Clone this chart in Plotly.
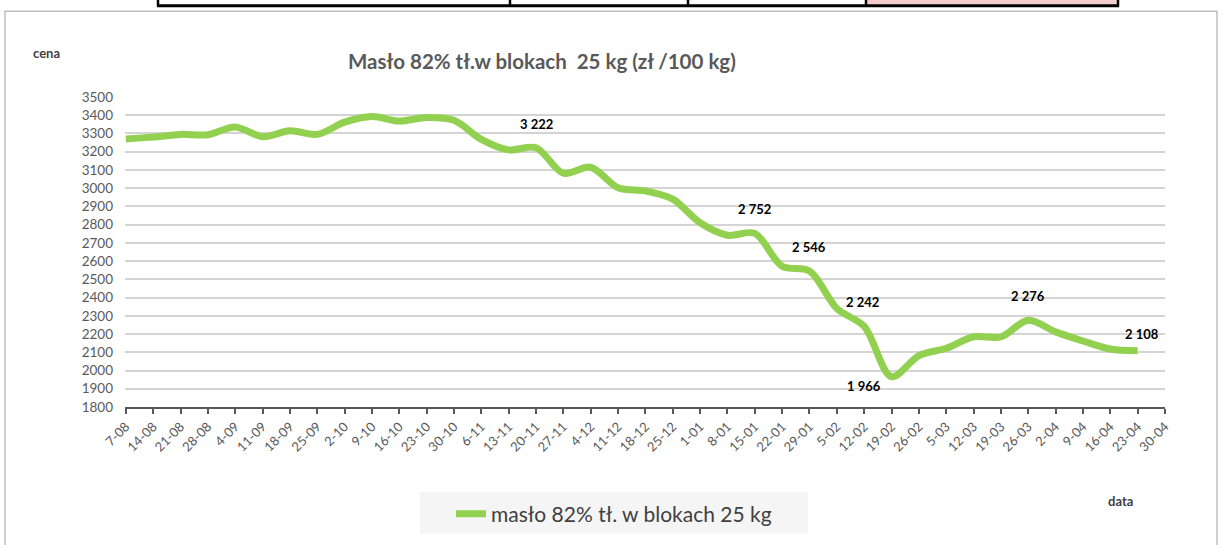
import plotly.graph_objects as go

# ---------------- data ----------------
dates = ["7-08", "14-08", "21-08", "28-08", "4-09", "11-09", "18-09", "25-09",
         "2-10", "9-10", "16-10", "23-10", "30-10", "6-11", "13-11", "20-11",
         "27-11", "4-12", "11-12", "18-12", "25-12", "1-01", "8-01", "15-01",
         "22-01", "29-01", "5-02", "12-02", "19-02", "26-02", "5-03", "12-03",
         "19-03", "26-03", "2-04", "9-04", "16-04", "23-04", "30-04"]

prices = [3270, 3280, 3295, 3293, 3335, 3282, 3315, 3295,
          3362, 3393, 3368, 3388, 3372, 3268, 3210, 3222,
          3082, 3115, 3002, 2985, 2940, 2810, 2742, 2752,
          2572, 2546, 2340, 2242, 1966, 2082, 2122, 2185,
          2185, 2276, 2212, 2162, 2118, 2108]

label_dates = ["20-11", "15-01", "29-01", "12-02", "19-02", "26-03", "23-04"]

y_ticks = list(range(1800, 3501, 100))

series_name = "masło 82% tł. w blokach 25 kg"
title_text = "Masło 82% tł.w blokach  25 kg (zł /100 kg)"

# ---------------- layout geometry ----------------
W, H = 1222, 545
L, R, T, B = 125, 57, 97, 137
PW, PH = W - L - R, H - T - B


def px(xp):
    return (xp - L) / PW


def py(yp):
    return (H - B - yp) / PH


GREEN = "#92d050"
GREY = "#595959"
FONT = "Lato"

fig = go.Figure()
fig.add_trace(go.Scatter(
    x=dates[:len(prices)], y=prices, mode="lines", name=series_name,
    line=dict(color=GREEN, width=7, shape="spline", smoothing=0.9),
    hoverinfo="x+y", cliponaxis=False,
))


def fmt(v):
    return f"{v:,}".replace(",", " ")


label_offsets = {
    "20-11": (0, 24), "15-01": (0, 24), "29-01": (0, 24), "12-02": (-2, 24),
    "19-02": (-28, -9), "26-03": (0, 24), "23-04": (4, 17),
}

annotations = []
for d in label_dates:
    v = prices[dates.index(d)]
    dx, dy = label_offsets[d]
    annotations.append(dict(
        x=d, y=v, xref="x", yref="y", text="<b>" + fmt(v) + "</b>",
        showarrow=False, xshift=dx, yshift=dy,
        font=dict(family=FONT, size=13, color="#000000"),
        xanchor="center", yanchor="middle",
    ))

annotations += [
    dict(x=px(542), y=py(61), xref="paper", yref="paper",
         text="<b>" + title_text + "</b>",
         showarrow=False, xanchor="center", yanchor="middle",
         font=dict(family=FONT, size=20.5, color=GREY)),
    dict(x=px(31), y=py(53), xref="paper", yref="paper", text="<b>cena</b>",
         showarrow=False, xanchor="left", yanchor="middle",
         font=dict(family=FONT, size=13, color="#404040")),
    dict(x=px(1106), y=py(502), xref="paper", yref="paper", text="<b>data</b>",
         showarrow=False, xanchor="left", yanchor="middle",
         font=dict(family=FONT, size=13, color="#404040")),
]

shapes = [
    # outer chart frame
    dict(type="rect", xref="paper", yref="paper", x0=px(5), x1=px(1217),
         y0=py(560), y1=py(11), line=dict(color="#bfbfbf", width=1.5),
         fillcolor="rgba(0,0,0,0)", layer="below"),
    # legend background
    dict(type="rect", xref="paper", yref="paper", x0=px(420), x1=px(808),
         y0=py(535), y1=py(493), line=dict(width=0), fillcolor="#f5f5f5",
         layer="below"),
    # top table strip (cropped from document)
    dict(type="rect", xref="paper", yref="paper", x0=px(866), x1=px(1118),
         y0=py(5), y1=py(-2), line=dict(width=0), fillcolor="#f4cccc",
         layer="below"),
    dict(type="line", xref="paper", yref="paper", x0=px(157), x1=px(1119),
         y0=py(5.5), y1=py(5.5), line=dict(color="#000000", width=3)),
]
for xv in [158, 510, 688, 866, 1118]:
    shapes.append(dict(type="line", xref="paper", yref="paper", x0=px(xv),
                       x1=px(xv), y0=py(-2), y1=py(6),
                       line=dict(color="#000000", width=2.5)))

fig.update_layout(
    width=W, height=H,
    margin=dict(l=L, r=R, t=T, b=B),
    paper_bgcolor="#ffffff", plot_bgcolor="#ffffff",
    font=dict(family=FONT, color=GREY),
    showlegend=True,
    legend=dict(x=px(451), y=py(514), xanchor="left", yanchor="middle",
                orientation="h", bgcolor="rgba(0,0,0,0)",
                font=dict(family=FONT, size=21, color="#404040"),
                itemwidth=30),
    xaxis=dict(type="category", categoryorder="array", categoryarray=dates,
               range=[-0.03, len(dates) - 1], showgrid=False, showline=True,
               linecolor=GREY, linewidth=2, ticks="outside", ticklen=5,
               tickwidth=1.5, tickcolor=GREY, tickangle=-45,
               tickfont=dict(family=FONT, size=13, color=GREY),
               zeroline=False, fixedrange=True),
    yaxis=dict(range=[y_ticks[0], y_ticks[-1]], tickvals=y_ticks,
               showgrid=True, gridcolor="#d4d4d4", gridwidth=1.5,
               showline=False, zeroline=False, ticks="",
               tickfont=dict(family=FONT, size=13.5, color=GREY),
               ticklabelstandoff=11, fixedrange=True),
    annotations=annotations, shapes=shapes,
)

fig.write_html("out.html", config={"displayModeBar": False},
               post_script="document.body.style.margin='0px';"
                           "document.body.style.overflow='hidden';")
